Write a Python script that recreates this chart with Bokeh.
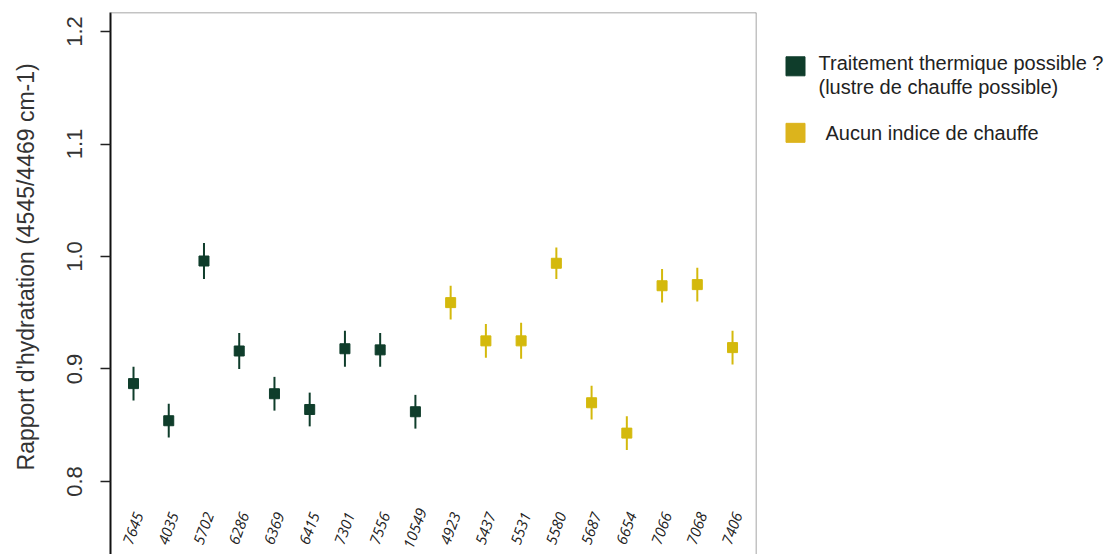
import numpy as np
from bokeh.plotting import figure
from bokeh.layouts import row
from bokeh.models import Range1d, FixedTicker, Span
from bokeh.core.properties import value
from bokeh.embed import file_html
from bokeh.resources import INLINE

# ---------------- data ----------------
sample_ids = ["7645", "4035", "5702", "6286", "6369", "6415", "7301", "7556", "10549",
              "4923", "5437", "5531", "5580", "5687", "6654", "7066", "7068", "7406"]
ratio = [0.887, 0.854, 0.996, 0.916, 0.878, 0.864, 0.918, 0.917, 0.862,
         0.959, 0.925, 0.925, 0.994, 0.870, 0.843, 0.974, 0.975, 0.919]
ratio_err = [0.015, 0.015, 0.016, 0.016, 0.015, 0.015, 0.016, 0.015, 0.015,
             0.015, 0.015, 0.016, 0.014, 0.015, 0.015, 0.015, 0.015, 0.015]
group = ["heated"] * 9 + ["unheated"] * 9

group_names = ["heated", "unheated"]
group_colors = ["#0f3d2b", "#d4b90c"]
legend_colors = ["#0f3d2b", "#dcb41c"]
legend_lines = [["Traitement thermique possible ?", "(lustre de chauffe possible)"],
                ["Aucun indice de chauffe"]]

y_ticks = [0.8, 0.9, 1.0, 1.1, 1.2]
y_tick_labels = ["0.8", "0.9", "1.0", "1.1", "1.2"]
y_label = "Rapport d'hydratation (4545/4469 cm-1)"

# ---------------- layout constants ----------------
H = 554
PANEL_DY = 10
Y_START, Y_END = 0.7351, 1.2169
X_START, X_END = 0.347, 18.68
LABEL_Y = 0.7582
FONT = "Liberation Sans"
TXT = "#333333"


def blank_panel(width):
    f = figure(width=width, height=H, output_backend="svg", toolbar_location=None,
               title_location=None, x_range=Range1d(0, width),
               y_range=Range1d(H + PANEL_DY, PANEL_DY),
               x_axis_location=None, y_axis_location=None,
               min_border=0, min_border_top=0, min_border_bottom=0,
               min_border_left=0, min_border_right=0)
    f.outline_line_color = None
    f.xgrid.visible = False
    f.ygrid.visible = False
    return f


x_pos = np.arange(1, len(sample_ids) + 1)
ratio = np.array(ratio)
ratio_err = np.array(ratio_err)
cmap = dict(zip(group_names, group_colors))
colors = [cmap[g] for g in group]

# ---------------- y-axis title panel ----------------
yl = blank_panel(40)
yl.text(x=[25], y=[270], text=[y_label], angle=90, angle_units="deg",
        text_align="center", text_baseline="middle", text_font=value(FONT),
        text_font_size="23px", text_color=TXT)

# ---------------- main plot ----------------
p = figure(width=718, height=H, output_backend="svg", toolbar_location=None,
           title_location=None,
           x_range=Range1d(X_START, X_END), y_range=Range1d(Y_START, Y_END),
           x_axis_location=None, y_axis_location="left",
           min_border_left=70, min_border_right=2, min_border_top=12, min_border_bottom=0)
p.outline_line_color = None
p.xgrid.visible = False
p.ygrid.visible = False
p.background_fill_color = "white"

ax = p.yaxis[0]
ax.ticker = FixedTicker(ticks=y_ticks)
ax.major_label_overrides = dict(zip(y_ticks, y_tick_labels))
ax.minor_tick_line_color = None
ax.major_tick_in = 0
ax.major_tick_out = 10
ax.major_tick_line_color = "#222222"
ax.major_tick_line_width = 1.5
ax.axis_line_color = "#111111"
ax.axis_line_width = 2
ax.major_label_orientation = "vertical"
ax.major_label_text_font = FONT
ax.major_label_text_font_size = "22px"
ax.major_label_text_color = TXT
ax.major_label_standoff = 18

# frame borders (top, right)
p.add_layout(Span(location=Y_END, dimension="width", line_color="#888888", line_width=1.5))
p.add_layout(Span(location=X_END, dimension="height", line_color="#888888", line_width=1.5))

# error bars
p.segment(x0=x_pos, y0=ratio - ratio_err, x1=x_pos, y1=ratio + ratio_err,
          line_color=colors, line_width=2)
# points
p.scatter(x=x_pos, y=ratio, marker="square", size=10, fill_color=colors, line_color=colors)

# category labels
p.text(x=x_pos, y=[LABEL_Y] * len(sample_ids), text=sample_ids, angle=70, angle_units="deg",
       text_align="center", text_baseline="middle", text_font=value("Open Sans"),
       text_font_style="italic", text_font_size="15px", text_color="#222222")

# ---------------- legend panel ----------------
lg = blank_panel(347)
sq_x = [37, 37]
sq_y = [65, 133]
lg.scatter(x=sq_x, y=sq_y, marker="square", size=19, fill_color=legend_colors,
           line_color=legend_colors)
txt_x = [60, 67]
txt_y0 = [62, 133]
line_gap = 24
tx, ty, tt = [], [], []
for i, lines in enumerate(legend_lines):
    for j, s in enumerate(lines):
        tx.append(txt_x[i])
        ty.append(txt_y0[i] + j * line_gap)
        tt.append(s)
lg.text(x=tx, y=ty, text=tt, text_align="left", text_baseline="middle",
        text_font=value(FONT), text_font_size="20px", text_color="#222222")

layout = row(yl, p, lg)
open("out.html", "w").write(file_html(layout, INLINE))
